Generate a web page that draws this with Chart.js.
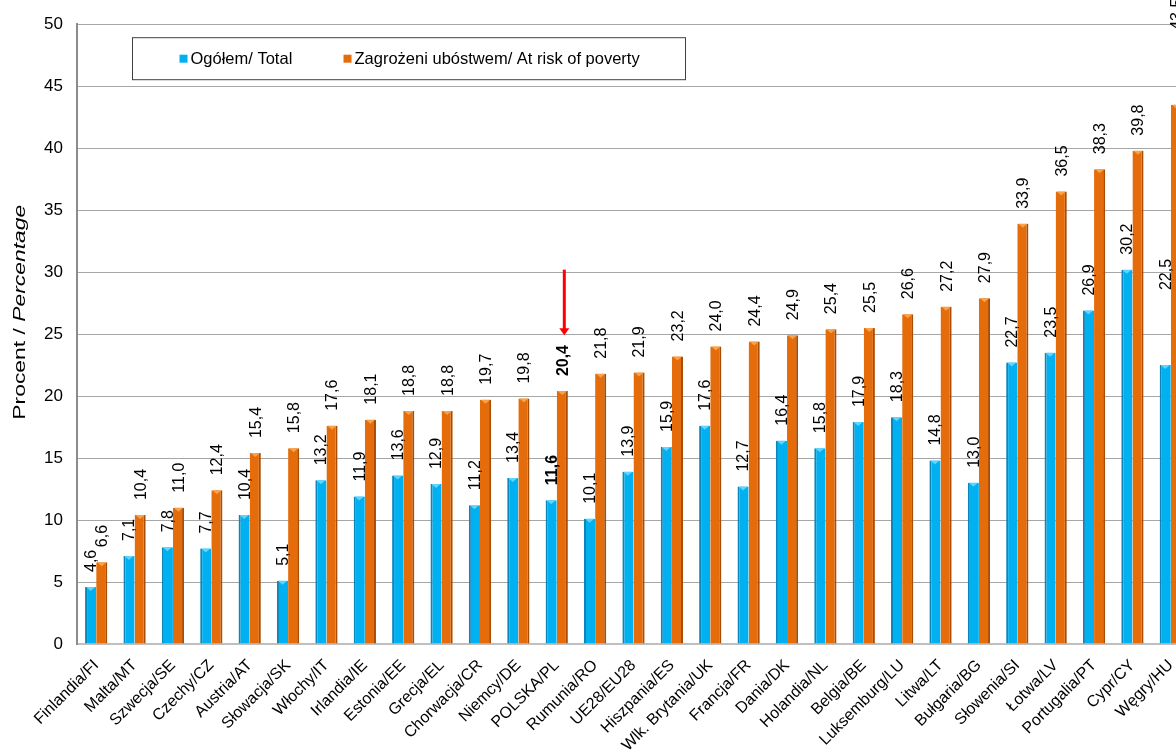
<!DOCTYPE html>
<html lang="pl">
<head>
<meta charset="utf-8">
<title>Zagrożenie ubóstwem</title>
<script src="https://cdn.jsdelivr.net/npm/chart.js@4.4.1/dist/chart.umd.min.js"></script>
<style>
    html, body { margin: 0; padding: 0; background: #ffffff; overflow: hidden; }
    #wrap { width: 1200px; height: 754px; position: relative; }
</style>
</head>
<body>
<div id="wrap"><canvas id="povertyChart"></canvas></div>
<script>
// Categories and series
const countries = [
    'Finlandia/FI', 'Malta/MT', 'Szwecja/SE', 'Czechy/CZ', 'Austria/AT', 'Słowacja/SK',
    'Włochy/IT', 'Irlandia/IE', 'Estonia/EE', 'Grecja/EL', 'Chorwacja/CR', 'Niemcy/DE',
    'POLSKA/PL', 'Rumunia/RO', 'UE28/EU28', 'Hiszpania/ES', 'Wlk. Brytania/UK', 'Francja/FR',
    'Dania/DK', 'Holandia/NL', 'Belgia/BE', 'Luksemburg/LU', 'Litwa/LT', 'Bułgaria/BG',
    'Słowenia/SI', 'Łotwa/LV', 'Portugalia/PT', 'Cypr/CY', 'Węgry/HU'
];
const totalValues = [
    4.6, 7.1, 7.8, 7.7, 10.4, 5.1, 13.2, 11.9, 13.6, 12.9, 11.2, 13.4, 11.6, 10.1, 13.9,
    15.9, 17.6, 12.7, 16.4, 15.8, 17.9, 18.3, 14.8, 13.0, 22.7, 23.5, 26.9, 30.2, 22.5
];
const povertyValues = [
    6.6, 10.4, 11.0, 12.4, 15.4, 15.8, 17.6, 18.1, 18.8, 18.8, 19.7, 19.8, 20.4, 21.8, 21.9,
    23.2, 24.0, 24.4, 24.9, 25.4, 25.5, 26.6, 27.2, 27.9, 33.9, 36.5, 38.3, 39.8, 43.5
];
const seriesNames = ['Ogółem/ Total', 'Zagrożeni ubóstwem/ At risk of poverty'];
const yMin = 0, yMax = 50, yStep = 5;

// Arrow pointing at Poland
const highlightCountry = 'POLSKA/PL';
const arrowFrom = 30.2, arrowTo = 24.9;

const BLUE = '#00b0f0';
const ORANGE = '#e46c0a';
const FONT = '"Liberation Sans", Arial, sans-serif';

const plIndex = countries.indexOf(highlightCountry);

function fmt(v) {
    return v.toFixed(1).replace('.', ',');
}

// Vertical value labels above every bar
const barLabels = {
    id: 'barLabels',
    afterDatasetsDraw(chart) {
        const ctx = chart.ctx;
        const last = countries.length - 1;
        chart.data.datasets.forEach((ds, i) => {
            chart.getDatasetMeta(i).data.forEach((bar, j) => {
                const gap = j === last ? 75 : 15;
                ctx.save();
                ctx.translate(bar.x + 1, bar.y - gap);
                ctx.rotate(-Math.PI / 2);
                ctx.font = (j === plIndex ? 'bold ' : '') + '16px ' + FONT;
                ctx.fillStyle = '#000000';
                ctx.textAlign = 'left';
                ctx.textBaseline = 'middle';
                ctx.fillText(fmt(ds.data[j]), 0, 0);
                ctx.restore();
            });
        });
    }
};

// Small lighter caps on top of the bars
const barCaps = {
    id: 'barCaps',
    afterDatasetsDraw(chart) {
        const ctx = chart.ctx;
        const caps = ['#5fd4ff', '#f7a34a'];
        chart.data.datasets.forEach((ds, i) => {
            chart.getDatasetMeta(i).data.forEach(bar => {
                const half = bar.width / 2;
                ctx.save();
                ctx.fillStyle = caps[i];
                ctx.beginPath();
                ctx.moveTo(bar.x - half + 1, bar.y);
                ctx.lineTo(bar.x + half - 1, bar.y);
                ctx.lineTo(bar.x, bar.y + 4);
                ctx.closePath();
                ctx.fill();
                ctx.restore();
            });
        });
    }
};

// Red arrow over the Polish bar
const arrow = {
    id: 'arrow',
    afterDatasetsDraw(chart) {
        const ctx = chart.ctx;
        const bar = chart.getDatasetMeta(1).data[plIndex];
        const y = chart.scales.y;
        const x = bar.x + 2;
        const y1 = y.getPixelForValue(arrowFrom);
        const y2 = y.getPixelForValue(arrowTo);
        ctx.save();
        ctx.strokeStyle = '#ff0000';
        ctx.fillStyle = '#ff0000';
        ctx.lineWidth = 3;
        ctx.beginPath();
        ctx.moveTo(x, y1);
        ctx.lineTo(x, y2 - 6);
        ctx.stroke();
        ctx.beginPath();
        ctx.moveTo(x - 5, y2 - 7);
        ctx.lineTo(x + 5, y2 - 7);
        ctx.lineTo(x, y2);
        ctx.closePath();
        ctx.fill();
        ctx.restore();
    }
};

// Framed legend and the mixed-style axis title
const decorations = {
    id: 'decorations',
    afterDraw(chart) {
        const ctx = chart.ctx;
        const area = chart.chartArea;
        ctx.save();

        // legend box
        const bx = area.left + 55.5, by = area.top + 13.5;
        ctx.strokeStyle = '#404040';
        ctx.lineWidth = 1;
        ctx.strokeRect(bx, by, 553, 42);
        ctx.font = '16.5px ' + FONT;
        ctx.textBaseline = 'middle';
        const items = [[bx + 47, BLUE], [bx + 211, ORANGE]];
        items.forEach(([lx, col], k) => {
            ctx.fillStyle = col;
            ctx.fillRect(lx, by + 17, 8, 8);
            ctx.fillStyle = '#000000';
            ctx.textAlign = 'left';
            ctx.fillText(seriesNames[k], lx + 11, by + 21.5);
        });

        // y axis title, stretched along its length
        const plain = 'Procent / ';
        const italic = 'Percentage';
        const size = '16.5px ';
        const titleLength = 215;
        ctx.font = size + FONT;
        const w1 = ctx.measureText(plain).width;
        ctx.font = 'italic ' + size + FONT;
        const w2 = ctx.measureText(italic).width;
        ctx.translate(25, area.top + 288);
        ctx.rotate(-Math.PI / 2);
        ctx.scale(titleLength / (w1 + w2), 1);
        ctx.textAlign = 'left';
        ctx.textBaseline = 'alphabetic';
        ctx.fillStyle = '#000000';
        ctx.font = size + FONT;
        ctx.fillText(plain, -(w1 + w2) / 2, 0);
        ctx.font = 'italic ' + size + FONT;
        ctx.fillText(italic, -(w1 + w2) / 2 + w1, 0);
        ctx.restore();
    }
};

new Chart(document.getElementById('povertyChart'), {
    type: 'bar',
    data: {
        labels: countries,
        datasets: [{
            label: seriesNames[0],
            data: totalValues,
            backgroundColor: BLUE,
            borderColor: '#0a86b8',
            borderWidth: { left: 2, right: 0, top: 0, bottom: 0 },
            categoryPercentage: 0.58,
            barPercentage: 1.0
        }, {
            label: seriesNames[1],
            data: povertyValues,
            backgroundColor: ORANGE,
            borderColor: '#a94d05',
            borderWidth: { left: 0, right: 2, top: 0, bottom: 0 },
            categoryPercentage: 0.58,
            barPercentage: 1.0
        }]
    },
    options: {
        responsive: true,
        maintainAspectRatio: false,
        animation: false,
        layout: { padding: { top: 24, right: 10, left: 0, bottom: 0 } },
        plugins: {
            legend: { display: false },
            tooltip: { enabled: false }
        },
        scales: {
            x: {
                grid: { display: false, drawTicks: false },
                border: { color: '#bfbfbf', width: 2 },
                ticks: {
                    color: '#000000',
                    font: { family: FONT, size: 16 },
                    minRotation: 45,
                    maxRotation: 45,
                    autoSkip: false,
                    padding: 12
                },
                afterFit(scale) { scale.height = 110; }
            },
            y: {
                min: yMin,
                max: yMax,
                grid: { color: '#a6a6a6', lineWidth: 1, drawTicks: false },
                border: { color: '#8c8c8c', width: 2 },
                ticks: {
                    stepSize: yStep,
                    color: '#000000',
                    font: { family: FONT, size: 17 },
                    padding: 14
                },
                afterFit(scale) { scale.width = 77; }
            }
        }
    },
    plugins: [barCaps, barLabels, arrow, decorations]
});
</script>
</body>
</html>
